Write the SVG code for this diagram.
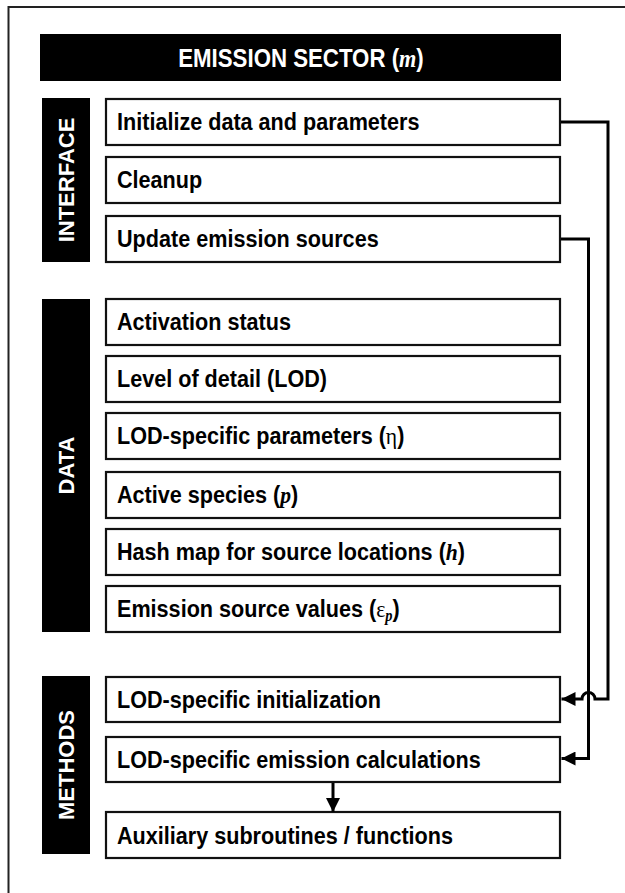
<svg xmlns="http://www.w3.org/2000/svg" width="625" height="893" viewBox="0 0 625 893">
<defs>
<style>
.frame{fill:none;stroke:#222;stroke-width:2}
.box{fill:#fff;stroke:#111;stroke-width:2.2}
.bar{fill:#000}
.t{font-family:"Liberation Sans",Arial,sans-serif;font-weight:bold;font-size:24px;fill:#000}
.vt{font-family:"Liberation Sans",Arial,sans-serif;font-weight:bold;font-size:22px;fill:#fff}
.title{font-family:"Liberation Sans",Arial,sans-serif;font-weight:bold;font-size:25px;fill:#fff}
.it{font-family:"Liberation Serif","Times New Roman",serif;font-style:italic}
.gr{font-family:"Liberation Serif","Times New Roman",serif;font-weight:normal}
.conn{fill:none;stroke:#000;stroke-width:3}
</style>
<marker id="ah" viewBox="0 0 14 14" refX="14" refY="7" markerWidth="14" markerHeight="14" markerUnits="userSpaceOnUse" orient="auto">
<path d="M0,0 L14,7 L0,14 z" fill="#000"/>
</marker>
</defs>
<rect x="0" y="0" width="625" height="893" fill="#fff"/>
<rect class="frame" x="8.5" y="7" width="640" height="900"/>

<g id="title">
<rect class="bar" x="40" y="34" width="521" height="47"/>
<text class="title" transform="translate(301,66.5) scale(0.89,1)" text-anchor="middle">EMISSION SECTOR (<tspan class="it">m</tspan>)</text>
</g>

<g id="interface">
<rect class="bar" x="42" y="98" width="48" height="164"/>
<text class="vt" transform="translate(73.5,180) rotate(-90)" text-anchor="middle">INTERFACE</text>
</g>
<g id="init"><rect class="box" x="106" y="99" width="454" height="46"/><text class="t" transform="translate(117,130) scale(0.9,1)">Initialize data and parameters</text></g>
<g id="cleanup"><rect class="box" x="106" y="157" width="454" height="46"/><text class="t" transform="translate(117,188) scale(0.9,1)">Cleanup</text></g>
<g id="update"><rect class="box" x="106" y="216" width="454" height="46"/><text class="t" transform="translate(117,247) scale(0.9,1)">Update emission sources</text></g>

<g id="data">
<rect class="bar" x="42" y="299" width="48" height="333"/>
<text class="vt" transform="translate(73.5,465.5) rotate(-90)" text-anchor="middle">DATA</text>
</g>
<g id="activation"><rect class="box" x="106" y="299" width="454" height="46"/><text class="t" transform="translate(117,330) scale(0.9,1)">Activation status</text></g>
<g id="lod"><rect class="box" x="106" y="356" width="454" height="46"/><text class="t" transform="translate(117,387) scale(0.9,1)">Level of detail (LOD)</text></g>
<g id="lodparams"><rect class="box" x="106" y="413" width="454" height="46"/><text class="t" transform="translate(117,444) scale(0.9,1)">LOD-specific parameters (<tspan class="gr">η</tspan>)</text></g>
<g id="species"><rect class="box" x="106" y="472" width="454" height="46"/><text class="t" transform="translate(117,503) scale(0.9,1)">Active species (<tspan class="it">p</tspan>)</text></g>
<g id="hashmap"><rect class="box" x="106" y="529" width="454" height="46"/><text class="t" transform="translate(117,560) scale(0.9,1)">Hash map for source locations (<tspan class="it">h</tspan>)</text></g>
<g id="sourcevals"><rect class="box" x="106" y="586" width="454" height="46"/><text class="t" transform="translate(117,617) scale(0.9,1)">Emission source values (<tspan class="gr">ε</tspan><tspan class="it" font-size="16" dy="4">p</tspan><tspan dy="-4">)</tspan></text></g>

<g id="methods">
<rect class="bar" x="42" y="676" width="48" height="178"/>
<text class="vt" transform="translate(73.5,765) rotate(-90)" text-anchor="middle">METHODS</text>
</g>
<g id="lodinit"><rect class="box" x="106" y="677" width="454" height="45"/><text class="t" transform="translate(117,708) scale(0.9,1)">LOD-specific initialization</text></g>
<g id="lodcalc"><rect class="box" x="106" y="737" width="454" height="45"/><text class="t" transform="translate(117,768) scale(0.9,1)">LOD-specific emission calculations</text></g>
<g id="aux"><rect class="box" x="106" y="812" width="454" height="46"/><text class="t" transform="translate(117,843.5) scale(0.9,1)">Auxiliary subroutines / functions</text></g>

<g id="connectors">
<path class="conn" d="M561,122 H608 V699 H595 A6.5,6.5 0 0 0 582,699 H561.5" marker-end="url(#ah)"/>
<path class="conn" d="M561,239 H588.5 V758.5 H561.5" marker-end="url(#ah)"/>
<path class="conn" d="M333,783 V812" marker-end="url(#ah)"/>
</g>
</svg>
